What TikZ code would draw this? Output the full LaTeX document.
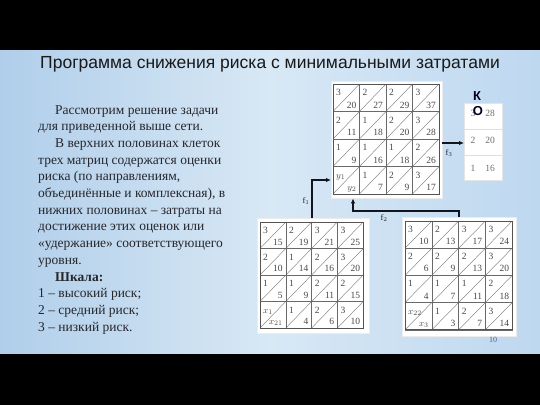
\documentclass[tikz,border=0pt]{standalone}
\usepackage{fontspec}
\setmainfont{Liberation Serif}
\newfontfamily\titlefont{Liberation Sans}
\usetikzlibrary{arrows.meta}
\definecolor{bgA}{RGB}{176,206,234}
\definecolor{bgB}{RGB}{216,232,245}
\definecolor{bgC}{RGB}{190,216,240}
\definecolor{txt}{RGB}{38,38,44}
\definecolor{numc}{RGB}{72,72,72}
\definecolor{gridc}{RGB}{105,105,105}
\definecolor{connc}{RGB}{18,20,30}
\tikzset{
  wbox/.style={fill=white, draw=white!85!gray, line width=0.4pt, inner sep=0pt, anchor=north west},
  cellbox/.style={draw=gridc, line width=0.6pt},
  diagln/.style={draw=gridc, line width=0.35pt},
  numtl/.style={anchor=base west, inner sep=0pt, text=numc, font=\fontsize{9.5}{10}\selectfont},
  numbr/.style={anchor=base east, inner sep=0pt, text=numc, font=\fontsize{9.5}{10}\selectfont},
  conn/.style={draw=connc, line width=1.2pt, -{Latex[length=5pt,width=4.5pt]}},
  flab/.style={inner sep=0pt, text=txt, font=\fontsize{8.5}{10}\selectfont},
}
\newcommand\drawmat[5]{%
  \foreach [count=\i from 0] \tv/\bv in {#5} {
    \pgfmathtruncatemacro\cc{mod(\i,4)}
    \pgfmathtruncatemacro\rr{div(\i,4)}
    \pgfmathsetmacro\xx{#1+\cc*#3}
    \pgfmathsetmacro\yy{#2+\rr*#4}
    \draw[cellbox] (\xx,\yy) rectangle ++(#3,#4);
    \draw[diagln] (\xx,\yy+#4) -- (\xx+#3,\yy);
    \node[numtl] at (\xx+3,\yy+11.5) {\tv};
    \node[numbr] at (\xx+#3-3,\yy+#4-3.5) {\bv};
  }
  \draw[draw=gridc!80!black, line width=0.8pt] (#1,#2) rectangle ++(4*#3,4*#4);
}
\begin{document}
\begin{tikzpicture}[x=1pt,y=-1pt]
\useasboundingbox (0,0) rectangle (540,405);
\shade[left color=bgA, right color=bgC, middle color=bgB] (0,50) rectangle (540,354);
\fill[black] (0,0) rectangle (540,50);
\fill[black] (0,354) rectangle (540,405);

% title
\node[inner sep=0pt, text=black!90, font=\titlefont\fontsize{17.5}{20}\selectfont] (title) at (270,64) {Программа снижения риска с минимальными затратами};

% text block
\node[anchor=north west, inner sep=0pt, align=left, text=txt,
      font=\fontsize{13.5}{16.7}\selectfont] (body) at (38,105) {%
\hspace*{17pt}Рассмотрим решение задачи\\
для приведенной выше сети.\\
\hspace*{17pt}В верхних половинах клеток\\
трех матриц содержатся оценки\\
риска (по направлениям,\\
объединённые и комплексная), в\\
нижних половинах – затраты на\\
достижение этих оценок или\\
«удержание» соответствующего\\
уровня.\\
\hspace*{17pt}\textbf{Шкала:}\\
1 – высокий риск;\\
2 – средний риск;\\
3 – низкий риск.};

% white boxes
\node[wbox, minimum width=111, minimum height=117] (topM) at (331,81) {};
\node[wbox, minimum width=112, minimum height=115] (blM) at (257,218) {};
\node[wbox, minimum width=114, minimum height=119] (brM) at (402,217) {};
\node[wbox, minimum width=38, minimum height=77, draw=white!80!gray] (koM) at (464,103) {};

% matrices
\drawmat{333}{84}{26.5}{27.5}{3/20,2/27,2/29,3/37,2/11,1/18,2/20,3/28,1/9,1/16,1/18,2/26,{$y_1$}/{$y_2$},1/7,2/9,3/17}
\drawmat{260}{222}{25.8}{26.5}{3/15,2/19,3/21,3/25,2/10,1/14,2/16,3/20,1/5,1/9,2/11,2/15,{$x_1$}/{$x_{21}$},1/4,2/6,3/10}
\drawmat{405}{221}{26.8}{27.2}{3/10,2/13,3/17,3/24,2/6,2/9,2/13,3/20,1/4,1/7,1/11,2/18,{$x_{22}$}/{$x_3$},1/3,2/7,3/14}

% K-O table
\draw[draw=white!75!gray, line width=0.5pt] (464,129) -- (502,129) (464,155) -- (502,155);
\foreach \yy/\a/\b in {116/3/28, 143/2/20, 171/1/16} {
  \node[anchor=base, inner sep=0pt, text=numc!80, font=\fontsize{9.5}{10}\selectfont] at (473,\yy) {\a};
  \node[anchor=base, inner sep=0pt, text=numc!80, font=\fontsize{9.5}{10}\selectfont] at (490,\yy) {\b};
}
\node[inner sep=0pt, text=black!85!blue, font=\titlefont\bfseries\fontsize{13}{14}\selectfont] (kl) at (477,96) {К};
\node[inner sep=0pt, text=black!85!blue, font=\titlefont\bfseries\fontsize{13}{14}\selectfont] (ol) at (478,111) {О};

% connectors
\path (312,0) coordinate (f1x) (0,180) coordinate (f1y)
      (459,0) coordinate (f2x) (0,211) coordinate (f2y) (353,0) coordinate (f2t)
      (0,143) coordinate (f3y);
\draw[conn] (blM.north -| f1x) |- (topM.west |- f1y);
\draw[conn] (brM.north -| f2x) -- (f2x |- f2y) -| (topM.south -| f2t);
\draw[conn] (topM.east |- f3y) -- (koM.west |- f3y);

\node[flab] (l1) at (306,201) {f$_1$};
\node[flab] (l2) at (384,218) {f$_2$};
\node[flab] (l3) at (449,153) {f$_3$};

% page number
\node[inner sep=0pt, text=gray!70!blue, font=\fontsize{8}{9}\selectfont] (pn) at (493,340) {10};
\end{tikzpicture}
\end{document}
